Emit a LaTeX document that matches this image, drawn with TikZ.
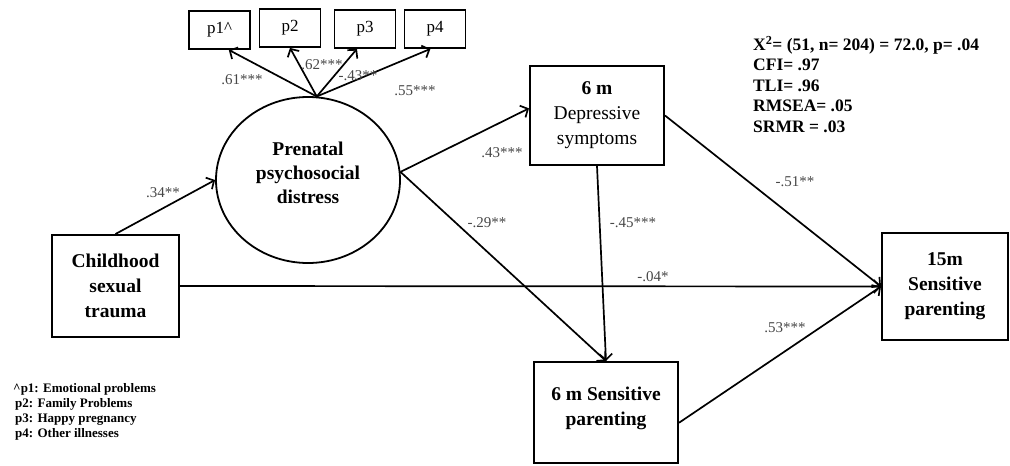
\documentclass[tikz,border=0pt]{standalone}
\usepackage{fontspec}
\setmainfont{Liberation Serif}
\usetikzlibrary{arrows.meta,shapes.geometric}
\begin{document}
\begin{tikzpicture}[x=1pt,y=-1pt,
  box/.style={draw,line width=2pt,rectangle,inner sep=0pt,align=center,
    font=\fontsize{19.5}{25}\selectfont},
  pbox/.style={draw,line width=1.8pt,rectangle,inner sep=0pt,minimum width=61pt,
    minimum height=38pt,font=\fontsize{17}{20}\selectfont},
  conn/.style={line width=1.7pt,-{Straight Barb[length=6pt,width=13pt]}},
  coef/.style={inner sep=0pt,text=black!72,font=\fontsize{15}{17}\selectfont}]
\useasboundingbox (0,0) rectangle (1010,466);

% measured variables
\node[box,minimum width=127pt,minimum height=102pt] (cst) at (115.5,286)
  {\bfseries Childhood\\\bfseries sexual\\\bfseries trauma};
\node[draw,ellipse,line width=1.8pt,inner sep=0pt,minimum width=184pt,minimum height=166pt,
  align=center,font=\fontsize{19.5}{24}\selectfont] (ppd) at (308,180)
  {\bfseries Prenatal\\\bfseries psychosocial\\\bfseries distress\\[-10pt]};
\node[box,minimum width=134pt,minimum height=99pt] (dep) at (597,115.5)
  {\bfseries 6 m\\Depressive\\symptoms};
\node[box,minimum width=144pt,minimum height=101pt] (sp6) at (606,412.5)
  {\bfseries 6 m Sensitive\\\bfseries parenting\\[-12pt]};
\node[box,minimum width=126pt,minimum height=107pt] (sp15) at (945,286.5)
  {\bfseries 15m\\\bfseries Sensitive\\\bfseries parenting};

% indicators
\node[pbox] (p1) at (219.5,30) {p1\^{}};
\node[pbox] (p2) at (290,28) {p2};
\node[pbox] (p3) at (365,29) {p3};
\node[pbox] (p4) at (435,29) {p4};

% connectors
\draw[conn] (ppd.84) -- (p1.295);
\draw[conn] (ppd.84) -- (p2.south);
\draw[conn] (ppd.84) -- (p3.248);
\draw[conn] (ppd.84) -- (p4.257);
\draw[conn] (cst.north) -- (ppd.west);
\draw[conn] (cst.east) -- (sp15.west);
\draw[conn] (ppd.5) -- (dep.174);
\draw[conn] (ppd.5) -- (sp6.north);
\draw[conn] (dep.south) -- (sp6.north);
\draw[conn] (dep.east) -- (sp15.west);
\draw[conn] (sp6.352.5) -- (sp15.west);

% coefficients
\node[coef] (c1) at (163,193) {.34**};
\node[coef] (c2) at (653,277) {-.04*};
\node[coef] (c3) at (502,153) {.43***};
\node[coef] (c4) at (487,223) {-.29**};
\node[coef] (c5) at (633,223) {-.45***};
\node[coef] (c6) at (795,182) {-.51**};
\node[coef] (c7) at (785,328) {.53***};
\node[coef] (c8) at (242,80) {.61***};
\node[coef] (c9) at (322,65) {.62***};
\node[coef] (c10) at (358,76) {-.43**};
\node[coef] (c11) at (415,91) {.55***};

% fit statistics
\node[anchor=north west,inner sep=0pt,align=left,font=\bfseries\fontsize{17.5}{20.4}\selectfont] (fit) at (753,36)
  {X\textsuperscript{2}= (51, n= 204) = 72.0, p= .04\\CFI= .97\\TLI= .96\\RMSEA= .05\\SRMR = .03};

% legend
\node[anchor=north west,inner sep=0pt,align=left,font=\bfseries\fontsize{13}{15}\selectfont] (leg) at (13,383)
  {\^{}p1: Emotional problems\\\hspace{2pt}p2: Family Problems\\\hspace{2pt}p3: Happy pregnancy\\\hspace{2pt}p4: Other illnesses};
\end{tikzpicture}
\end{document}
